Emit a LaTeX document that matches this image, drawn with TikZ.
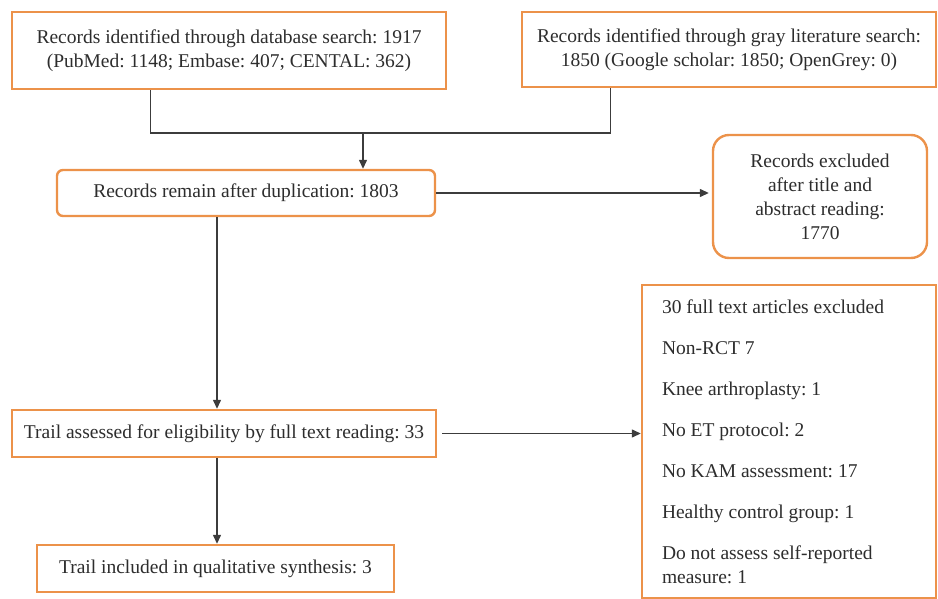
\documentclass[tikz,border=0pt]{standalone}
\usepackage{fontspec}
\setmainfont{Liberation Serif}
\usepackage{tikz}
\usetikzlibrary{arrows.meta}
\usetikzlibrary{calc}
\definecolor{boxorange}{RGB}{236,146,74}
\definecolor{linegray}{RGB}{60,60,60}
\definecolor{textgray}{RGB}{45,45,45}
\tikzset{
	flowbox/.style={shape=rectangle,draw=boxorange,line width=2.4pt,fill=white,text=textgray,align=center,font=\fontsize{19.5}{24}\selectfont\frenchspacing,inner sep=0pt},
	link/.style={draw=linegray,line width=1.3pt},
	flow/.style={link,-{Triangle[length=9pt,width=8pt]}}
}

\begin{document}
\begin{tikzpicture}[x=1pt,y=-1pt]
	\useasboundingbox (0,0) rectangle (938,599);
	\draw (229,50.5) node (db) [flowbox,minimum width=434pt,minimum height=77pt] {Records identified through database search: 1917\\(PubMed: 1148; Embase: 407; CENTAL: 362)};
	\draw (729,49.5) node (grey) [flowbox,minimum width=414pt,minimum height=75pt] {Records identified through gray literature search:\\1850 (Google scholar: 1850; OpenGrey: 0)};
	\draw (246,193) node (dup) [flowbox,rounded corners=6pt,minimum width=378pt,minimum height=46pt] {Records remain after duplication: 1803};
	\draw (820,196.5) node (excl1) [flowbox,rounded corners=16pt,minimum width=214pt,minimum height=123pt] {Records excluded\\after title and\\abstract reading:\\1770};
	\draw (224,433.5) node (full) [flowbox,minimum width=424pt,minimum height=47pt] {Trail assessed for eligibility by full text reading: 33};
	\draw (789,441.5) node (excl2) [flowbox,align=flush left,text width=254pt,minimum width=294pt,minimum height=313pt] {30 full text articles excluded\\[17pt]Non-RCT 7\\[17pt]Knee arthroplasty: 1\\[17pt]No ET protocol: 2\\[17pt]No KAM assessment: 17\\[17pt]Healthy control group: 1\\[17pt]Do not assess self-reported\\measure: 1};
	\draw (215.5,568.5) node (incl) [flowbox,minimum width=357pt,minimum height=47pt] {Trail included in qualitative synthesis: 3};
	\coordinate (join) at (363,133);
	\coordinate (spine) at (217,0);
	\draw [link] ($(db.south west)+(140,0)$) |- (join) -| ($(grey.south west)+(90,0)$);
	\draw [flow] (join) -- (join |- dup.north);
	\draw [flow,shorten >=3pt] (dup.east) -- (dup.east -| excl1.west);
	\draw [flow] (dup.south -| spine) -- (full.north -| spine);
	\draw [flow,shorten <=5pt] (full.east) -- (full.east -| excl2.west);
	\draw [flow] (full.south -| spine) -- (incl.north -| spine);
\end{tikzpicture}
\end{document}
